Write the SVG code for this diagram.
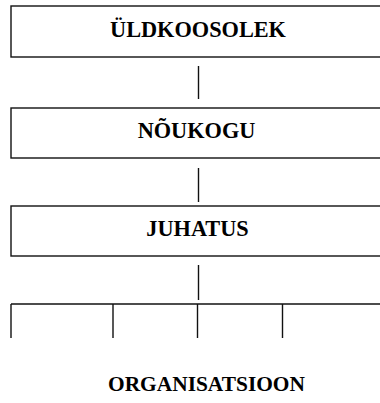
<svg xmlns="http://www.w3.org/2000/svg" width="380" height="403" viewBox="0 0 380 403">
  <style>
    .box { fill: #ffffff; stroke: #111111; stroke-width: 1.4; }
    .lbl { font-family: "Liberation Serif", "Times New Roman", serif; font-weight: bold; font-size: 22.3px; fill: #000000; text-anchor: middle; }
    .title { font-size: 21.4px; }
    .wire { stroke: #111111; stroke-width: 1.4; fill: none; }
  </style>
  <rect x="0" y="0" width="380" height="403" fill="#ffffff"/>

  <g id="uldkoosolek">
    <rect class="box" x="11" y="6" width="380" height="51"/>
    <text class="lbl" x="198" y="37">ÜLDKOOSOLEK</text>
  </g>

  <g id="noukogu">
    <rect class="box" x="11" y="108" width="380" height="50"/>
    <text class="lbl" x="196.5" y="138">NÕUKOGU</text>
  </g>

  <g id="juhatus">
    <rect class="box" x="11" y="206" width="380" height="50"/>
    <text class="lbl" x="197.5" y="236">JUHATUS</text>
  </g>

  <g id="connectors">
    <line class="wire" x1="198.5" y1="66" x2="198.5" y2="99"/>
    <line class="wire" x1="198.5" y1="168" x2="198.5" y2="202"/>
    <line class="wire" x1="198.5" y1="265" x2="198.5" y2="300"/>
    <line class="wire" x1="11" y1="304" x2="385" y2="304"/>
    <line class="wire" x1="11" y1="304" x2="11" y2="338"/>
    <line class="wire" x1="113" y1="304" x2="113" y2="338"/>
    <line class="wire" x1="197.5" y1="304" x2="197.5" y2="338"/>
    <line class="wire" x1="282.5" y1="304" x2="282.5" y2="338"/>
  </g>

  <g id="organisatsioon">
    <text class="lbl title" x="206.5" y="391">ORGANISATSIOON</text>
  </g>
</svg>
